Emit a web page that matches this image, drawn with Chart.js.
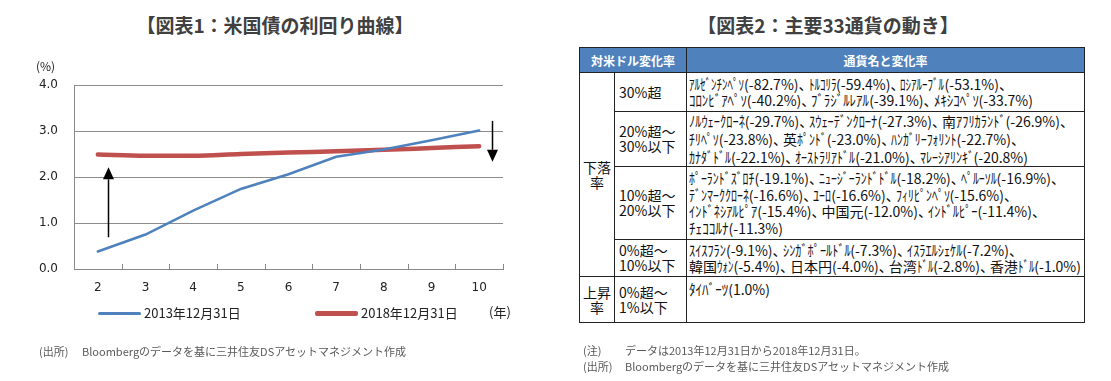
<!DOCTYPE html>
<html lang="ja">
<head>
<meta charset="utf-8">
<script src="https://cdn.jsdelivr.net/npm/chart.js@4/dist/chart.umd.min.js"></script>
<style>
  html,body{margin:0;padding:0;background:#fff;}
  body{width:1111px;height:381px;position:relative;overflow:hidden;font-family:"Noto Sans CJK JP","Noto Sans",sans-serif;color:#222;}
  .title{position:absolute;top:11px;font-weight:bold;font-size:19px;color:#404040;white-space:nowrap;transform:translateX(-50%);line-height:28px;}
  .abs{position:absolute;white-space:nowrap;}
  #chartWrap{position:absolute;left:0;top:0;width:555px;height:381px;}
  table{position:absolute;left:579px;top:47px;border-collapse:collapse;table-layout:fixed;font-size:14px;color:#111;}
  td,th{border:1px solid #222;padding:0;overflow:visible;}
  th{background:#4f81bd;color:#fff;font-weight:bold;font-size:12px;height:24px;}
  td.g{text-align:center;vertical-align:middle;line-height:15px;padding:0 3px;}
  td.b{vertical-align:middle;padding-left:4px;line-height:15px;}
  td.c{vertical-align:middle;padding-left:2px;white-space:nowrap;font-size:14px;}
  td.c.top{vertical-align:top;padding-top:4px;}
  .ln{white-space:nowrap;}
  .ln > span{display:inline-block;transform-origin:0 50%;white-space:nowrap;}
  .k{white-space:nowrap;transform-origin:0 50%;font-size:15px;}
  .cm{margin-right:-4px;}
  .note{font-size:11px;color:#595959;line-height:14px;}
</style>
</head>
<body>
<div class="title" style="left:275px;">【図表1：米国債の利回り曲線】</div>
<div class="title" style="left:828px;">【図表2：主要33通貨の動き】</div>

<div id="chartWrap"><canvas id="c" width="555" height="381"></canvas></div>
<div class="abs" style="left:36px;top:57px;font-size:12px;color:#222;">(%)</div>
<div class="abs" style="left:489px;top:302px;font-size:13px;color:#222;">(年)</div>
<div id="legend"></div>

<div class="abs note" style="left:39px;top:344px;"><span style="display:inline-block;width:43px;">(出所)</span>Bloombergのデータを基に三井住友DSアセットマネジメント作成</div>

<table id="tbl"></table>

<div class="abs note" style="left:583px;top:343px;"><span style="display:inline-block;width:42px;">(注)</span>データは2013年12月31日から2018年12月31日。</div>
<div class="abs note" style="left:583px;top:359px;"><span style="display:inline-block;width:42px;">(出所)</span>Bloombergのデータを基に三井住友DSアセットマネジメント作成</div>

<script>
// ---------- Chart data ----------
const maturities = ['2','3','4','5','6','7','8','9','10'];
const yields2013 = [0.38, 0.75, 1.27, 1.74, 2.06, 2.44, 2.60, 2.80, 3.01];
const yields2018 = [2.49, 2.46, 2.46, 2.50, 2.53, 2.56, 2.59, 2.63, 2.67];
const seriesNames = ['2013年12月31日', '2018年12月31日'];
const seriesColors = ['#4f81bd', '#c0504d'];
const yTickValues = [0, 1, 2, 3, 4];
// arrows (annotation) in data units: category index and yield values
const arrowCats = [0.22, 8.26];
const arrowFrom = [0.69, 3.22];
const arrowTo   = [2.21, 2.33];

// ---------- Table data ----------
const groupLabels = ['下落率', '上昇率'];
const groupSpans = [4, 1];
const bandLabels = [['30%超'], ['20%超～','30%以下'], ['10%超～','20%以下'], ['0%超～','10%以下'], ['0%超～','1%以下']];
const currencyLines = [
  ['ｱﾙｾﾞﾝﾁﾝﾍﾟｿ(-82.7%)、ﾄﾙｺﾘﾗ(-59.4%)、ﾛｼｱﾙｰﾌﾞﾙ(-53.1%)、',
   'ｺﾛﾝﾋﾞｱﾍﾟｿ(-40.2%)、ﾌﾞﾗｼﾞﾙﾚｱﾙ(-39.1%)、ﾒｷｼｺﾍﾟｿ(-33.7%)'],
  ['ﾉﾙｳｪｰｸﾛｰﾈ(-29.7%)、ｽｳｪｰﾃﾞﾝｸﾛｰﾅ(-27.3%)、南ｱﾌﾘｶﾗﾝﾄﾞ(-26.9%)、',
   'ﾁﾘﾍﾟｿ(-23.8%)、英ﾎﾟﾝﾄﾞ(-23.0%)、ﾊﾝｶﾞﾘｰﾌｫﾘﾝﾄ(-22.7%)、',
   'ｶﾅﾀﾞﾄﾞﾙ(-22.1%)、ｵｰｽﾄﾗﾘｱﾄﾞﾙ(-21.0%)、ﾏﾚｰｼｱﾘﾝｷﾞ(-20.8%)'],
  ['ﾎﾟｰﾗﾝﾄﾞｽﾞﾛﾁ(-19.1%)、ﾆｭｰｼﾞｰﾗﾝﾄﾞﾄﾞﾙ(-18.2%)、ﾍﾟﾙｰｿﾙ(-16.9%)、',
   'ﾃﾞﾝﾏｰｸｸﾛｰﾈ(-16.6%)、ﾕｰﾛ(-16.6%)、ﾌｨﾘﾋﾟﾝﾍﾟｿ(-15.6%)、',
   'ｲﾝﾄﾞﾈｼｱﾙﾋﾟｱ(-15.4%)、中国元(-12.0%)、ｲﾝﾄﾞﾙﾋﾟｰ(-11.4%)、',
   'ﾁｪｺｺﾙﾅ(-11.3%)'],
  ['ｽｲｽﾌﾗﾝ(-9.1%)、ｼﾝｶﾞﾎﾟｰﾙﾄﾞﾙ(-7.3%)、ｲｽﾗｴﾙｼｪｹﾙ(-7.2%)、',
   '韓国ｳｫﾝ(-5.4%)、日本円(-4.0%)、台湾ﾄﾞﾙ(-2.8%)、香港ﾄﾞﾙ(-1.0%)'],
  ['ﾀｲﾊﾞｰﾂ(1.0%)']
];
const headerLabels = ['対米ドル変化率', '通貨名と変化率'];

// ---------- layout (not data) ----------
const colWidths = [35, 72, 398];
const rowHeights = [39, 55, 73, 37, 46];
const rowLineHeights = [16.5, 17, 15.5, 16.5, 16];
const lineWidths = [[320, 344], [381, 332, 339], [372, 325, 353, 94], [330, 392], [81]];

// legend
(function(){
  const lg = document.getElementById('legend');
  const pos = [{sx:98, sw:43, sh:3, tx:144}, {sx:315, sw:43, sh:5, tx:361}];
  seriesNames.forEach((n,i)=>{
    const p = pos[i];
    const sw = document.createElement('div');
    sw.className='abs';
    sw.style.cssText = `left:${p.sx}px;top:${313-p.sh/2}px;width:${p.sw}px;height:${p.sh}px;background:${seriesColors[i]};border-radius:2px;`;
    lg.appendChild(sw);
    const t = document.createElement('div');
    t.className='abs';
    t.style.cssText = `left:${p.tx}px;top:304px;font-size:13px;line-height:18px;color:#222;`;
    t.textContent = n;
    lg.appendChild(t);
  });
})();

// table
(function(){
  const tbl = document.getElementById('tbl');
  const cg = document.createElement('colgroup');
  colWidths.forEach(w=>{const c=document.createElement('col');c.style.width=w+'px';cg.appendChild(c);});
  tbl.appendChild(cg);
  const hr = document.createElement('tr');
  const h1 = document.createElement('th'); h1.colSpan=2; h1.textContent=headerLabels[0];
  const h2 = document.createElement('th'); h2.textContent=headerLabels[1];
  hr.appendChild(h1); hr.appendChild(h2); tbl.appendChild(hr);
  let row = 0;
  groupLabels.forEach((g,gi)=>{
    for(let r=0;r<groupSpans[gi];r++){
      const tr = document.createElement('tr');
      tr.style.height = rowHeights[row]+'px';
      if(r===0){
        const td = document.createElement('td'); td.className='g'; td.rowSpan=groupSpans[gi]; td.textContent=g; tr.appendChild(td);
      }
      const tb = document.createElement('td'); tb.className='b';
      tb.innerHTML = bandLabels[row].join('<br>');
      tr.appendChild(tb);
      const tc = document.createElement('td'); tc.className='c' + (row===4?' top':'');
      tc.style.lineHeight = rowLineHeights[row]+'px';
      currencyLines[row].forEach((line,li)=>{
        const d = document.createElement('div'); d.className='ln';
        const inner = document.createElement('span');
        inner.innerHTML = line
          .replace(/[\uFF61-\uFF9F]+/g, m=>'<span class="k">'+m+'</span>')
          .replace(/、/g, '<span class="cm">、</span>');
        d.appendChild(inner);
        d.dataset.w = lineWidths[row][li];
        tc.appendChild(d);
      });
      tr.appendChild(tc);
      tbl.appendChild(tr);
      row++;
    }
  });
})();

function fitLines(){
  document.querySelectorAll('.ln').forEach(ln=>{
    const inner = ln.firstChild;
    const target = +ln.dataset.w;
    const W = inner.getBoundingClientRect().width;
    const ks = Array.from(inner.querySelectorAll('.k'));
    const widths = ks.map(k=>k.getBoundingClientRect().width);
    const K = widths.reduce((a,b)=>a+b,0);
    let s = K>0 ? (target-(W-K))/K : 1;
    s = Math.max(0.58, Math.min(1.0, s));
    ks.forEach((k,i)=>{
      k.style.display='inline-block';
      k.style.width=(widths[i]*s)+'px';
      k.style.transform='scaleX('+s+')';
    });
    const W2 = inner.getBoundingClientRect().width;
    if (W2 > target + 1) {
      inner.style.transform = 'scaleX('+(target / W2)+')';
    }
  });
}
fitLines();

// ---------- Chart ----------
const arrowPlugin = {
  id:'arrows',
  afterDatasetsDraw(chart){
    const ctx = chart.ctx, xs = chart.scales.x, ys = chart.scales.y;
    ctx.save();
    ctx.strokeStyle='#000'; ctx.fillStyle='#000'; ctx.lineWidth=1.5;
    arrowCats.forEach((c,i)=>{
      const x = Math.round(xs.getPixelForValue(c))+0.5;
      const y0 = ys.getPixelForValue(arrowFrom[i]);
      const y1 = ys.getPixelForValue(arrowTo[i]);
      const dir = y1<y0 ? -1 : 1;
      const hl = 12, hw = 5.5;
      ctx.beginPath(); ctx.moveTo(x,y0); ctx.lineTo(x,y1 - dir*hl); ctx.stroke();
      ctx.beginPath(); ctx.moveTo(x,y1); ctx.lineTo(x-hw,y1-dir*hl); ctx.lineTo(x+hw,y1-dir*hl); ctx.closePath(); ctx.fill();
    });
    ctx.restore();
  }
};
const innerTicks = {
  id:'innerTicks',
  afterDraw(chart){
    const ctx = chart.ctx, xs = chart.scales.x, a = chart.chartArea;
    ctx.save(); ctx.strokeStyle='#888'; ctx.lineWidth=1;
    for(let i=0;i<=maturities.length;i++){
      const x = Math.round(xs.getPixelForValue(i-0.5))+0.5;
      ctx.beginPath(); ctx.moveTo(x,a.bottom); ctx.lineTo(x,a.bottom-5); ctx.stroke();
    }
    ctx.restore();
  }
};

new Chart(document.getElementById('c'), {
  type:'line',
  data:{
    labels: maturities,
    datasets:[
      {label:seriesNames[0], data:yields2013, borderColor:seriesColors[0], backgroundColor:seriesColors[0], borderWidth:2.5, pointRadius:0, tension:0, borderCapStyle:'round'},
      {label:seriesNames[1], data:yields2018, borderColor:seriesColors[1], backgroundColor:seriesColors[1], borderWidth:4.5, pointRadius:0, tension:0.4, cubicInterpolationMode:'monotone', borderCapStyle:'round'}
    ]
  },
  options:{
    responsive:false, animation:false, devicePixelRatio:1,
    layout:{padding:{left:0,right:52,top:85,bottom:82}},
    plugins:{legend:{display:false}, title:{display:false}, tooltip:{enabled:false}},
    scales:{
      x:{
        type:'category', offset:true,
        grid:{display:false, offset:true, drawTicks:false},
        border:{display:true, color:'#888', width:1},
        ticks:{padding:12, color:'#222', font:{family:'DejaVu Sans', size:12}, maxRotation:0, autoSkip:false},
        afterFit(s){ s.height = 30; }
      },
      y:{
        min:0, max:4,
        afterBuildTicks(s){ s.ticks = yTickValues.map(v=>({value:v})); },
        grid:{color:'#8c8c8c', lineWidth:1, drawTicks:false},
        border:{display:true, color:'#888', width:1},
        ticks:{padding:16, color:'#222', font:{family:'DejaVu Sans', size:12}, callback:v=>Number(v).toFixed(1)},
        afterFit(s){ s.width = 74; }
      }
    }
  },
  plugins:[arrowPlugin, innerTicks]
});
</script>
</body>
</html>
